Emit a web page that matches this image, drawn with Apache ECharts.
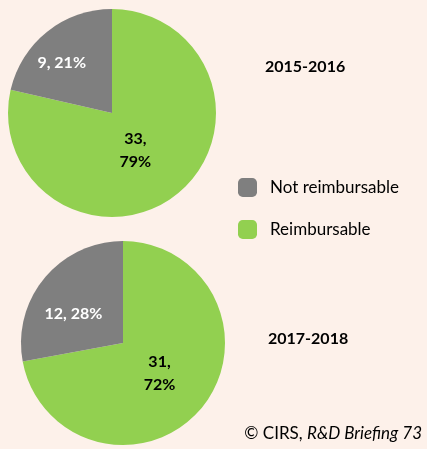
<!DOCTYPE html>
<html>
<head>
<meta charset="utf-8">
<script src="https://cdn.jsdelivr.net/npm/echarts@6/dist/echarts.min.js"></script>
<style>
  html, body { margin: 0; padding: 0; background: #fdf1ea; }
  #chart { width: 427px; height: 449px; }
</style>
</head>
<body>
<div id="chart"></div>
<script>
// 数据
const categories = ['Reimbursable', 'Not reimbursable'];
const periods = ['2015-2016', '2017-2018'];
const values1516 = [33, 9];
const values1718 = [31, 12];
const colors = ['#92d050', '#7f7f7f'];

const font = 'Lato, "Open Sans", sans-serif';

// 每一块的标签样式（位置微调用 offset）
function sliceLabels(values, offs) {
    return values.map((v, i) => ({
        name: categories[i],
        value: v,
        label: {
            color: i === 0 ? '#000' : '#fff',
            offset: offs[i],
            formatter: i === 0 ? '{c},\n{d}%' : '{c}, {d}%'
        }
    }));
}

const pieBase = {
    type: 'pie',
    radius: 104,
    startAngle: 90,
    clockwise: true,
    percentPrecision: 0,
    silent: true,
    labelLine: { show: false },
    itemStyle: { borderWidth: 0 },
    label: {
        show: true,
        position: 'inside',
        fontFamily: font,
        fontSize: 16,
        fontWeight: 'bold',
        lineHeight: 23
    }
};

const myChart = echarts.init(document.getElementById('chart'));
const option = {
    backgroundColor: '#fdf1ea',
    color: colors,
    animation: false,
    title: [
        {
            text: periods[0], left: 260, top: 54,
            textStyle: { fontFamily: font, fontSize: 16, fontWeight: 'bold', color: '#000' }
        },
        {
            text: periods[1], left: 263, top: 326,
            textStyle: { fontFamily: font, fontSize: 16, fontWeight: 'bold', color: '#000' }
        },
        {
            text: '{n|© CIRS, }{i|R&D Briefing 73}', right: 0, top: 420,
            textStyle: {
                fontWeight: 'normal',
                rich: {
                    n: { fontFamily: font, fontSize: 17, fontWeight: 'normal', color: '#000' },
                    i: { fontFamily: font, fontSize: 17, fontWeight: 'normal', fontStyle: 'italic', color: '#000' }
                }
            }
        }
    ],
    legend: {
        orient: 'vertical',
        left: 233,
        top: 173,
        itemWidth: 19,
        itemHeight: 19,
        itemGap: 23,
        icon: 'roundRect',
        data: ['Not reimbursable', 'Reimbursable'],
        textStyle: { fontFamily: font, fontSize: 17, color: '#000', padding: [0, 0, 0, 8] }
    },
    series: [
        Object.assign({}, pieBase, {
            name: periods[0],
            center: [112, 113],
            data: sliceLabels(values1516, [[-11, -6], [-16, -7]])
        }),
        Object.assign({}, pieBase, {
            name: periods[1],
            center: [123, 343],
            radius: 102,
            data: sliceLabels(values1718, [[-5, -4], [-8, 5]])
        })
    ]
};
myChart.setOption(option);
</script>
</body>
</html>
